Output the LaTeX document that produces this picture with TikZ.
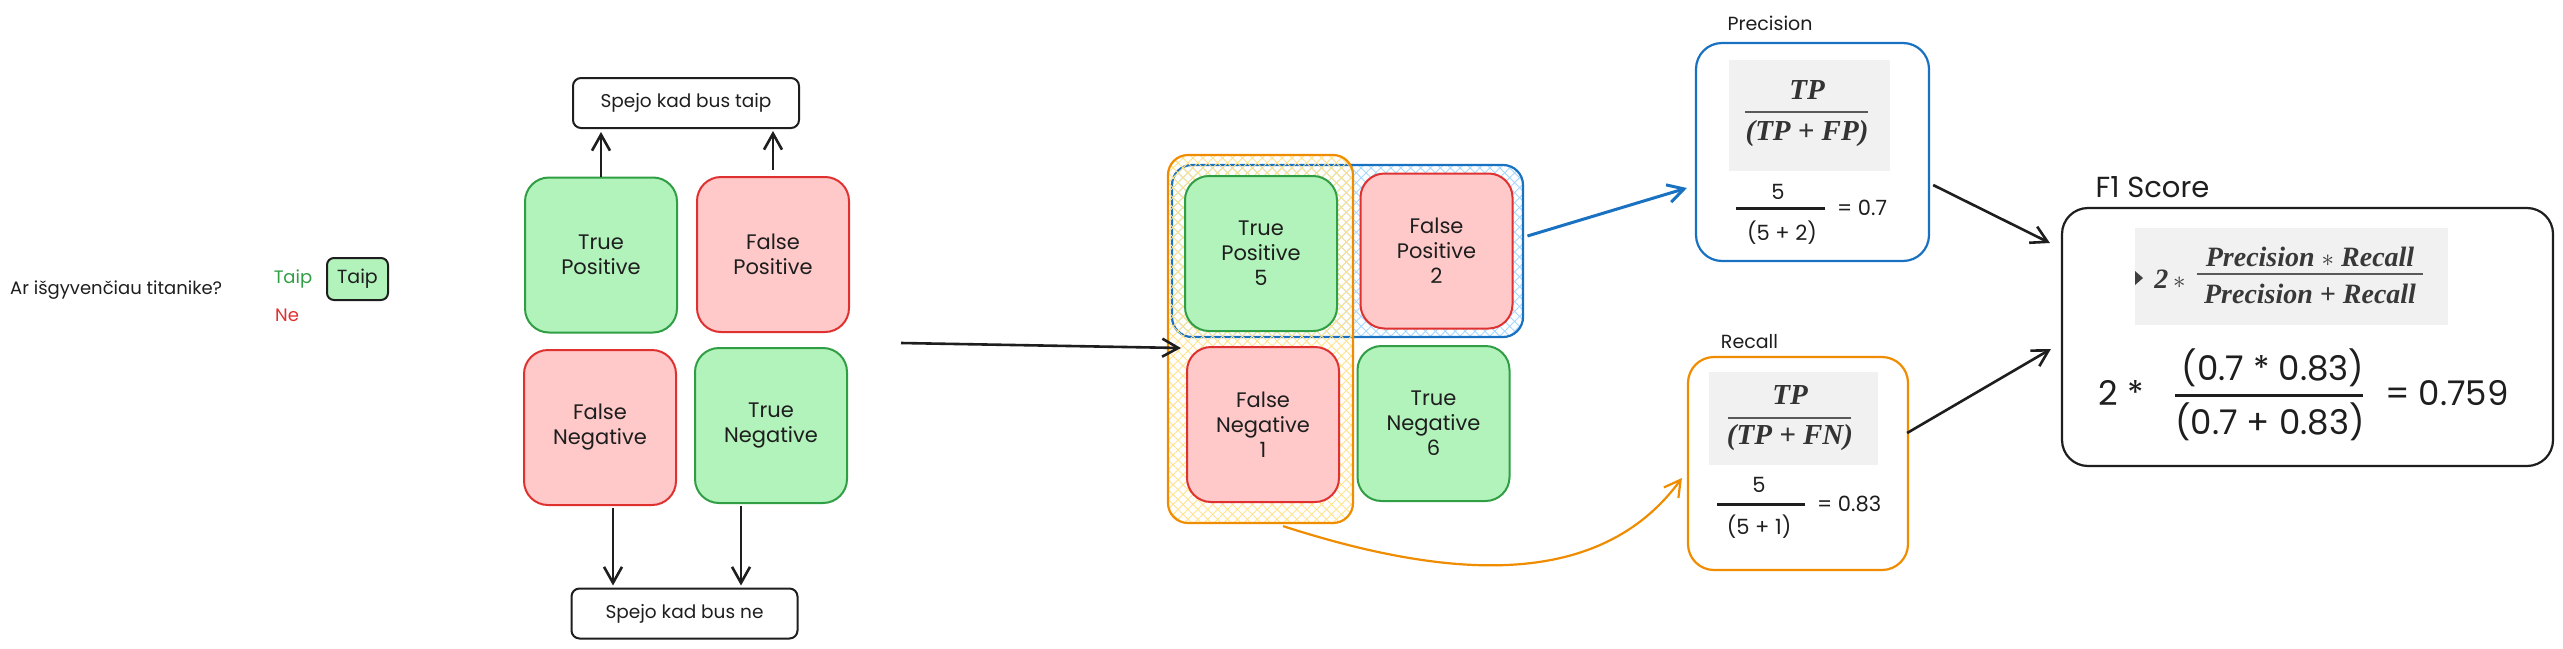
\documentclass[tikz,border=0pt]{standalone}
\usepackage{fontspec}
\setmainfont{Poppins}
\newfontfamily\fml{Liberation Serif}
\usetikzlibrary{arrows.meta,patterns.meta,calc}
\definecolor{ink}{HTML}{1E1E1E}
\definecolor{gfill}{HTML}{B2F2BB}
\definecolor{gline}{HTML}{2F9E44}
\definecolor{rfill}{HTML}{FFC9C9}
\definecolor{rline}{HTML}{E03131}
\definecolor{bline}{HTML}{1971C2}
\definecolor{bhatch}{HTML}{A5D8FF}
\definecolor{oline}{HTML}{F08C00}
\definecolor{yhatch}{HTML}{FFE38A}
\definecolor{imgbg}{HTML}{F1F1F1}
\begin{document}
\begin{tikzpicture}[x=1pt,y=-1pt,
  cell/.style={rounded corners=24pt, line width=2pt, minimum width=152pt, minimum height=155pt, align=center, inner sep=0pt, font=\fontsize{21}{25}\selectfont, text=ink},
  gcell/.style={cell, fill=gfill, draw=gline},
  rcell/.style={cell, fill=rfill, draw=rline},
  tbox/.style={rounded corners=8pt, line width=2pt, draw=ink, fill=white, minimum width=226pt, minimum height=50pt, inner sep=0pt, font=\fontsize{18.5}{22}\selectfont, text=ink},
  conn/.style={line width=2.6pt, draw=ink, -{Straight Barb[length=16pt,width=18pt]}},
  hatch/.style={preaction={pattern={Lines[angle=45,distance=7pt,line width=0.9pt]}, pattern color=#1}, pattern={Lines[angle=-45,distance=7pt,line width=0.9pt]}, pattern color=#1},
  grp/.style={rounded corners=20pt, line width=2.2pt, inner sep=0pt},
  pbox/.style={rounded corners=26pt, line width=2.2pt, fill=white, inner sep=0pt},
  img/.style={fill=imgbg, inner sep=0pt},
  lbl/.style={font=\fontsize{19}{22}\selectfont, text=ink, inner sep=0pt},
  hand/.style={font=\fontsize{21}{24}\selectfont, text=ink, inner sep=0pt},
  hbig/.style={font=\fontsize{34}{38}\selectfont, text=ink, inner sep=0pt},
  fm/.style={font=\fml\bfseries\itshape\fontsize{29}{32}\selectfont, text=black!80, inner sep=0pt},
  fms/.style={font=\fml\bfseries\itshape\fontsize{28}{30}\selectfont, text=black!78, inner sep=0pt},
  fbar/.style={draw=black!65, line width=1.8pt},
  hbar/.style={draw=ink, line width=3pt}
]
\useasboundingbox[fill=white] (0,0) rectangle (2563,648);

% question
\node[anchor=west, font=\fontsize{18}{20}\selectfont, text=ink, inner sep=0pt] (q) at (10,290) {Ar išgyvenčiau titanike?};
\node[font=\fontsize{18}{20}\selectfont, text=gline, inner sep=0pt] (ty) at (293,279) {Taip};
\node[font=\fontsize{18}{20}\selectfont, text=rline, inner sep=0pt] (ne) at (287,315) {Ne};
\node[draw=ink, fill=gfill, rounded corners=7pt, line width=2pt, minimum width=61pt, minimum height=42pt, inner sep=0pt, font=\fontsize{19}{20}\selectfont, text=ink] (tbtn) at (357.5,279) {Taip};

% left matrix
\node[gcell] (tp) at (601,255) {True\\Positive};
\node[rcell] (fp) at (773,254.5) {False\\Positive};
\node[rcell] (fn) at (600,427.5) {False\\Negative};
\node[gcell] (tn) at (771,425.5) {True\\Negative};
\node[tbox] (top) at (686,103) {Spejo kad bus taip};
\node[tbox] (bot) at (684.5,613.5) {Spejo kad bus ne};
\draw[conn] (tp.north) -- ($(tp.north |- top.south)+(0,3)$);
\draw[conn] ($(fp.north)+(0,-6)$) -- ($(fp.north |- top.south)+(0,2)$);
\draw[conn] ($(fn.south)+(13,2)$) -- ($(fn.south |- bot.north)+(13,-2)$);
\draw[conn] ($(tn.south)+(-30,2)$) -- ($(tn.south |- bot.north)+(-30,-2)$);

% second matrix with groups
\node[grp, draw=bline, hatch=bhatch, minimum width=351pt, minimum height=172pt] (bgrp) at (1347.5,251) {};
\node[grp, draw=oline, hatch=yhatch, minimum width=185pt, minimum height=368pt] (ogrp) at (1260.5,339) {};
\node[gcell] (tp2) at (1261,253.5) {True\\Positive\\5};
\node[rcell] (fp2) at (1436.5,251) {False\\Positive\\2};
\node[rcell] (fn2) at (1263,424.5) {False\\Negative\\1};
\node[gcell] (tn2) at (1433.5,423.5) {True\\Negative\\6};

\coordinate (lstart) at (901,343);
\draw[conn] (lstart) -- ($(ogrp.west)+(14,9)$);

% precision
\node[pbox, draw=bline, minimum width=233pt, minimum height=218pt] (prec) at (1812.5,152) {};
\node[lbl] (precl) at (1770,23) {Precision};
\node[img, minimum width=161pt, minimum height=111pt] (pimg) at (1809.5,115.5) {};
\node[fm] (pnum) at (1807,90) {TP};
\draw[fbar] (1745,112) -- (1868,112);
\node[fm] (pden) at (1807,134) {(TP + FP)};
\node[hand] (p5) at (1778,192) {5};
\draw[hbar] (1736,208) -- (1825,208);
\node[hand] (p52) at (1782,233) {(5 + 2)};
\node[hand, anchor=west] (p07) at (1837,208) {= 0.7};

% recall
\node[pbox, draw=oline, minimum width=220pt, minimum height=213pt] (rec) at (1798,463.5) {};
\node[lbl] (recl) at (1749.5,342) {Recall};
\node[img, minimum width=169pt, minimum height=93pt] (rimg) at (1793.5,418.5) {};
\node[fm] (rnum) at (1790,395) {TP};
\draw[fbar] (1728,418) -- (1851,418);
\node[fm] (rden) at (1790,438) {(TP + FN)};
\node[hand] (r5) at (1759,485) {5};
\draw[hbar] (1717,504) -- (1805,504);
\node[hand] (r51) at (1759,527) {(5 + 1)};
\node[hand, anchor=west] (r083) at (1817,504) {= 0.83};

% F1
\node[pbox, draw=ink, minimum width=491pt, minimum height=258pt] (f1) at (2307.5,337) {};
\node[font=\fontsize{29}{32}\selectfont, text=ink, inner sep=0pt] (f1l) at (2152.5,187) {F1 Score};
\node[img, minimum width=313pt, minimum height=97pt] (fimg) at (2291.5,276.5) {};
\fill[black!75] (2135,271) -- (2143,278) -- (2135,285) -- cycle;
\node[fms] (ftwo) at (2170,279) {2\,$\ast$};
\node[fms] (fnum) at (2310,257) {Precision $\ast$ Recall};
\draw[fbar] (2197,274) -- (2423,274);
\node[fms] (fden) at (2310,294) {Precision + Recall};
\node[hbig] (f2s) at (2121.5,393) {2 *};
\draw[hbar] (2175,395) -- (2363,395);
\node[hbig] (fn1) at (2273,368) {(0.7 * 0.83)};
\node[hbig] (fd1) at (2270,422) {(0.7 + 0.83)};
\node[hbig, anchor=west] (feq) at (2385,393) {= 0.759};

% connectors right side
\draw[conn, draw=bline, line width=3pt] ($(bgrp.east)+(4,-15)$) -- ($(prec.west)+(-8,36)$);
\draw[conn, draw=oline, line width=2.2pt] ($(ogrp.south)+(22.5,2)$) .. controls (1450,580) and (1600,590) .. ($(rec.west)+(-5,14.5)$);
\draw[conn] ($(prec.east)+(3,33)$) -- ($(f1.west)+(-11,-94)$);
\draw[conn] ($(rec.east)+(-2,-30.5)$) -- ($(f1.west)+(-10,12)$);
\end{tikzpicture}
\end{document}
